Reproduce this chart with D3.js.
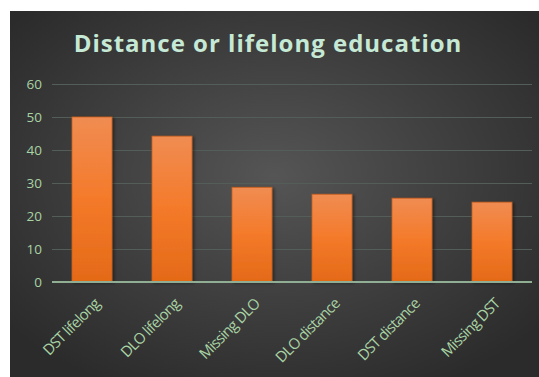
<!DOCTYPE html>
<html><head><meta charset="utf-8">
<script src="https://cdn.jsdelivr.net/npm/d3@7"></script>
<style>html,body{margin:0;padding:0;background:#fff;}svg{display:block;}</style>
</head><body>
<script>
const categories = ["DST lifelong","DLO lifelong","Missing DLO","DLO distance","DST distance","Missing DST"];
const values = [50, 44.2, 28.7, 26.6, 25.4, 24.2];
const yTicks = [0,10,20,30,40,50,60];
const title = "Distance or lifelong education";

const W = 539, H = 377;
const svg = d3.select("body").append("svg").attr("width", W).attr("height", H);
const defs = svg.append("defs");
const bg = defs.append("radialGradient").attr("id","bg").attr("cx","50%").attr("cy","45%").attr("r","65%");
bg.append("stop").attr("offset","0%").attr("stop-color","#555555");
bg.append("stop").attr("offset","100%").attr("stop-color","#2b2b2b");
const bar = defs.append("linearGradient").attr("id","bar").attr("x1",0).attr("y1",0).attr("x2",0).attr("y2",1);
bar.append("stop").attr("offset","0%").attr("stop-color","#f08c52");
bar.append("stop").attr("offset","50%").attr("stop-color","#f47a2a");
bar.append("stop").attr("offset","100%").attr("stop-color","#e46a18");
const sh = defs.append("filter").attr("id","sh").attr("x","-20%").attr("y","-20%").attr("width","150%").attr("height","150%");
sh.append("feDropShadow").attr("dx",2).attr("dy",1).attr("stdDeviation",1.5).attr("flood-color","#000").attr("flood-opacity",0.4);

svg.append("rect").attr("x",10).attr("y",11).attr("width",W-10).attr("height",H-11).attr("fill","url(#bg)");

svg.append("text").attr("x",268).attr("y",52).attr("text-anchor","middle")
  .attr("font-family","Open Sans").attr("font-weight","bold").attr("font-size",24)
  .attr("letter-spacing",1).attr("fill","#c6e9d6").text(title);

const x = d3.scaleBand().domain(categories).range([52,532]).paddingInner(0.5).paddingOuter(0.25);
const y = d3.scaleLinear().domain([0,60]).range([282,84]);

const gy = svg.append("g").attr("transform","translate(52,0)")
  .call(d3.axisLeft(y).tickValues(yTicks).tickSize(-480).tickPadding(10));
gy.select(".domain").remove();
gy.selectAll(".tick line").attr("stroke","#525e57").attr("stroke-width",1);
gy.selectAll(".tick text").attr("fill","#a9d3a4").attr("font-family","Open Sans").attr("font-size",13.5);

svg.append("g").selectAll("rect").data(values).join("rect")
  .attr("x",(d,i)=>x(categories[i])).attr("y",d=>y(d))
  .attr("width",x.bandwidth()).attr("height",d=>y(0)-y(d))
  .attr("fill","url(#bar)").attr("stroke","#c85e1e").attr("stroke-width",0.8)
  .attr("filter","url(#sh)");

svg.append("line").attr("x1",52).attr("x2",532).attr("y1",y(0)).attr("y2",y(0))
  .attr("stroke","#8fae93").attr("stroke-width",2);

svg.append("g").selectAll("text").data(categories).join("text")
  .attr("transform",d=>`translate(${x(d)+x.bandwidth()/2+5},${y(0)+19}) rotate(-45)`)
  .attr("text-anchor","end").attr("dy","0.35em")
  .attr("font-family","Open Sans").attr("font-size",15).attr("letter-spacing",-0.8)
  .attr("fill","#a9d3a4").text(d=>d);
</script>
</body></html>
